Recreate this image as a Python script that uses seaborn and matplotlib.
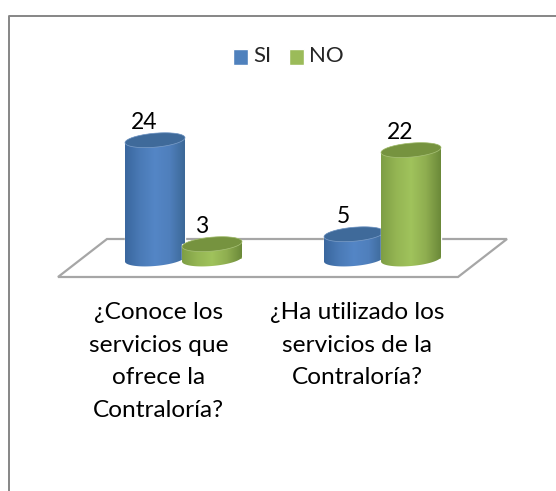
import numpy as np
import pandas as pd
import matplotlib
matplotlib.use("Agg")
import matplotlib.pyplot as plt
import seaborn as sns
from matplotlib.colors import LinearSegmentedColormap
from matplotlib.lines import Line2D
from matplotlib.patches import Polygon
from matplotlib.transforms import ScaledTranslation

questions = ["¿Conoce los\nservicios que\nofrece la\nContraloría?",
             "¿Ha utilizado los\nservicios de la\nContraloría?"]
si_values = [24, 5]
no_values = [3, 22]
series_names = ["SI", "NO"]
series_colors = ["#4F81BD", "#9BBB59"]

W, H = 556, 491
PX_X = 199.0  # px per category
PX_Y = 4.95   # px per unit
X0, Y0 = 183.5, 259.0  # pixel of first category / value 0
AX_TOP, AX_BOTTOM = 20, 277

gradients = {
    "SI": ["#3A679E", "#4A7AB6", "#5486C6", "#4F7FBC", "#3C6897"],
    "NO": ["#7E9E45", "#94B553", "#A0C35C", "#8FAE50", "#6B8939"],
}
top_colors = {"SI": "#3F6A9A", "NO": "#76933F"}
rim_colors = {"SI": "#7D9FC9", "NO": "#A9C279"}

sns.set_theme(style="white")
plt.rcParams["font.family"] = ["Lato", "DejaVu Sans"]

df = pd.DataFrame({
    "pregunta": questions * 2,
    "respuesta": [series_names[0]] * 2 + [series_names[1]] * 2,
    "valor": si_values + no_values,
})

fig = plt.figure(figsize=(W / 100, H / 100), dpi=100, facecolor="white")
ax = fig.add_axes([0, 1 - AX_BOTTOM / H, 1, (AX_BOTTOM - AX_TOP) / H])

sns.barplot(data=df, x="pregunta", y="valor", hue="respuesta",
            hue_order=series_names, palette=series_colors, width=0.573,
            gap=0, saturation=1, ax=ax, errorbar=None, legend=True)

xlim = (-X0 / PX_X, (W - X0) / PX_X)
ylim = ((Y0 - AX_BOTTOM) / PX_Y, (Y0 - AX_TOP) / PX_Y)


def ellipse_xy(cx, cy, a, t):
    # the cylinder caps lean a little, right side higher
    b, s = 7.0 / PX_Y, 2.5 / PX_Y
    return cx + a * np.cos(t), cy + b * np.sin(t) + s * np.cos(t)


for name, container, base_z in zip(series_names, ax.containers, [3, 5]):
    cmap = LinearSegmentedColormap.from_list(name, gradients[name])
    for bar, value in zip(container.patches, container.datavalues):
        cx = bar.get_x() + bar.get_width() / 2
        a = 30.0 / PX_X
        bar.set_x(cx - a)
        bar.set_width(2 * a)
        bar.set_zorder(base_z)

        x1, y1 = ellipse_xy(cx, 0, a, np.linspace(np.pi, 2 * np.pi, 50))
        x2, y2 = ellipse_xy(cx, value, a, np.linspace(0, np.pi, 50))
        body = Polygon(np.column_stack([np.r_[x1, x2], np.r_[y1, y2]]),
                       closed=True, transform=ax.transData,
                       fc="none", ec="none")
        ax.add_patch(body)
        img = ax.imshow(np.linspace(0, 1, 128)[None, :], cmap=cmap,
                        extent=(cx - a, cx + a, -2, value + 2),
                        aspect="auto", zorder=base_z + 0.1)
        img.set_clip_path(body)

        xt, yt = ellipse_xy(cx, value, a, np.linspace(0, 2 * np.pi, 100))
        ax.add_patch(Polygon(np.column_stack([xt, yt]), closed=True,
                             fc=top_colors[name], ec=rim_colors[name],
                             lw=0.5, zorder=base_z + 0.2))

        ax.annotate(f"{value:.0f}", (cx, value), xytext=(-10.5, 18),
                    textcoords="offset pixels", ha="center", va="center",
                    fontsize=16.5, color="black", zorder=10)

ax.set_xlim(xlim)
ax.set_ylim(ylim)
ax.set_xlabel("")
ax.set_ylabel("")
ax.set_yticks([])
ax.set_xticks([0, 1], labels=questions)
ax.tick_params(axis="x", length=0, pad=18, labelsize=17.6, labelcolor="black")
ax.patch.set_visible(False)
for sp in ax.spines.values():
    sp.set_visible(False)
for label, shift in zip(ax.get_xticklabels(), [-25, -25]):
    label.set_linespacing(1.68)
    label.set_transform(label.get_transform()
                        + ScaledTranslation(shift / 100, 0, fig.dpi_scale_trans))

leg = ax.legend(*ax.get_legend_handles_labels(), ncols=2, frameon=False,
                fontsize=16, loc="center",
                bbox_to_anchor=(288.5 / W, 1 - 56 / H),
                bbox_transform=fig.transFigure, handlelength=0.68,
                handleheight=0.72, handletextpad=0.25, columnspacing=0.75,
                borderpad=0, borderaxespad=0)
for h in leg.legend_handles:
    h.set_y(h.get_y() - 2)


def fx(px):
    return px / W


def fy(py):
    return 1 - py / H


# floor of the 3D chart
floor_px = [(58, 277), (107, 239), (507, 239), (458, 277)]
fig.add_artist(Polygon([(fx(x), fy(y)) for x, y in floor_px], closed=True,
                       transform=fig.transFigure, fc="white", ec="#A6A6A6",
                       lw=1.6, zorder=0.5))
ax.set_zorder(1)

# outer chart frame, only left and top edges fall inside the crop
fig.add_artist(Line2D([fx(9), fx(9), fx(556)],
                      [fy(491), fy(15.5), fy(15.5)],
                      color="#868686", lw=1.4, zorder=0.4))

fig.savefig("out.png", dpi=100)
